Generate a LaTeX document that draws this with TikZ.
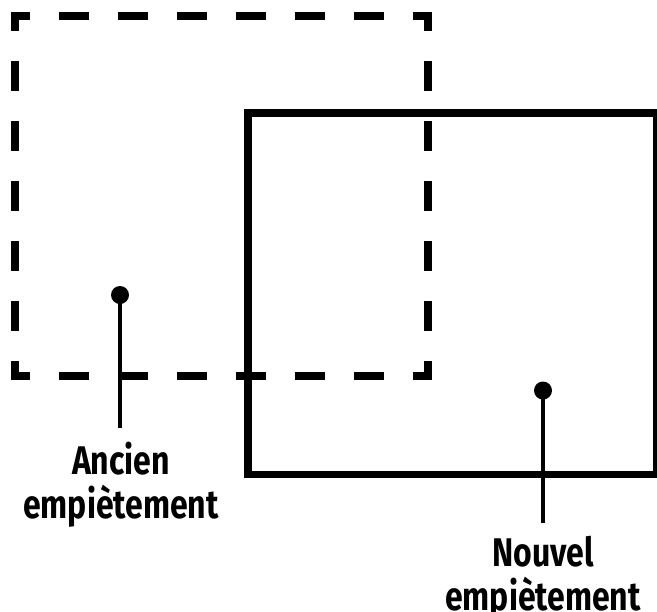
\documentclass[tikz,border=0pt]{standalone}
\usepackage{fontspec}
\newfontfamily\lblfont{Fira Sans}[FakeStretch=0.8]
\usetikzlibrary{positioning}

\tikzset{
  hdash/.style={line width=6pt, dash pattern=on 22.5pt off 21.7pt, dash phase=8.25pt},
  vdash/.style={line width=6pt, dash pattern=on 22.5pt off 22.5pt, dash phase=8.25pt},
  newrect/.style={line width=5.6pt},
  dot/.style={circle, fill=black, inner sep=0pt, minimum size=13.5pt},
  stem/.style={line width=2.3pt},
  lbl/.style={font=\lblfont\bfseries\fontsize{30}{33}\selectfont, align=center,
    anchor=north, inner xsep=0pt, inner ysep=10pt}
}

\begin{document}
\begin{tikzpicture}[x=0.75pt, y=-0.75pt]
\useasboundingbox (0,0) rectangle (657,611);

% old (dashed) footprint
\coordinate (oa) at (15,16);
\coordinate (ob) at (427.5,16);
\coordinate (oc) at (427.5,376);
\coordinate (od) at (15,376);
\draw[hdash] ([xshift=-3pt]oa) -- ([xshift=3pt]ob);
\draw[hdash] ([xshift=-3pt]od) -- ([xshift=3pt]oc);
\draw[vdash] ([yshift=3pt]oa) -- ([yshift=-3pt]od);
\draw[vdash] ([yshift=3pt]ob) -- ([yshift=-3pt]oc);

% new footprint
\draw[newrect] (248,113) rectangle (657,474.5);

\node[dot] (oldpt) at (120,295) {};
\node[dot] (newpt) at (543,390.5) {};

\node[lbl] (oldlbl) at (121,428) {Ancien\\empiètement};
\node[lbl] (newlbl) at (543,523) {Nouvel\\empiètement};

\draw[stem] (oldpt.center) -- (oldpt |- oldlbl.north);
\draw[stem] (newpt.center) -- (newpt |- newlbl.north);

\end{tikzpicture}
\end{document}
